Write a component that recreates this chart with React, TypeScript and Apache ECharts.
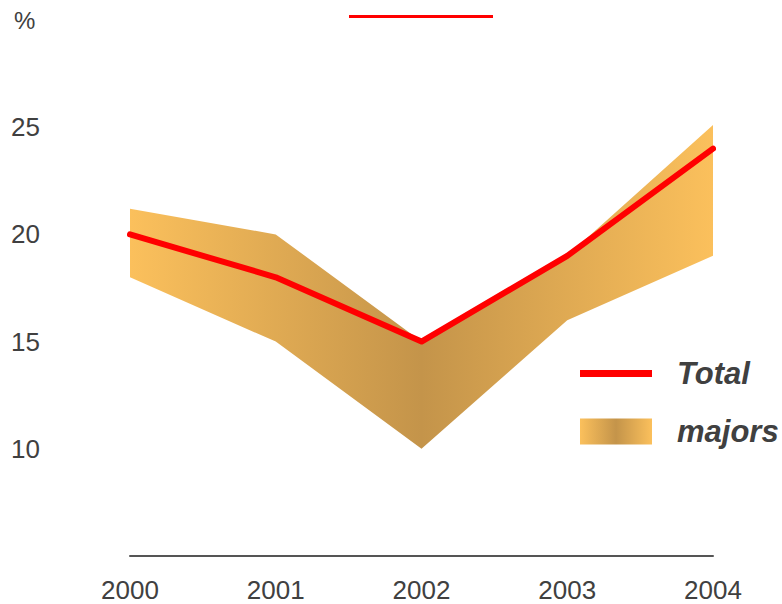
import React, { useEffect, useRef } from "react";
import * as echarts from "echarts";

const years = ["2000", "2001", "2002", "2003", "2004"];
const totalValues = [20, 18, 15, 19, 24];
const majorsUpper = [21.2, 20, 15, 19, 25.1];
const majorsLower = [18, 15, 10, 16, 19];
const yTicks = [5, 10, 15, 20, 25, 30];

const FONT = "'Liberation Sans', Arial, sans-serif";
const LIGHT = "#fbc05c";
const DARK = "#c4944a";

function bandGradient() {
  return new echarts.graphic.LinearGradient(0, 0, 1, 0, [
    { offset: 0, color: LIGHT },
    { offset: 0.5, color: DARK },
    { offset: 1, color: LIGHT },
  ]);
}

export default function App() {
  const ref = useRef<HTMLDivElement>(null);

  useEffect(() => {
    document.body.style.margin = "0";
    if (!ref.current) return;
    const chart = echarts.init(ref.current, null, { renderer: "svg" });
    const bandWidth = majorsUpper.map((u, i) => +(u - majorsLower[i]).toFixed(2));

    chart.setOption({
      animation: false,
      backgroundColor: "#ffffff",
      textStyle: { fontFamily: FONT },
      grid: { left: 130, right: 69, top: 20, bottom: 48, containLabel: false },
      xAxis: {
        type: "category",
        data: years,
        boundaryGap: false,
        axisLine: { show: true, lineStyle: { color: "#555555", width: 2 } },
        axisTick: { show: false },
        axisLabel: {
          color: "#404040",
          fontSize: 26,
          lineHeight: 20,
          fontFamily: FONT,
          margin: 24,
        },
        splitLine: { show: false },
      },
      yAxis: {
        type: "value",
        min: yTicks[0],
        max: yTicks[yTicks.length - 1],
        interval: 5,
        axisLine: { show: false },
        axisTick: { show: false },
        splitLine: { show: false },
        axisLabel: {
          color: "#404040",
          fontSize: 26,
          fontFamily: FONT,
          align: "left",
          margin: 119,
          showMinLabel: false,
          showMaxLabel: false,
        },
      },
      legend: [
        {
          orient: "vertical",
          left: 580,
          top: 358,
          padding: 0,
          itemWidth: 72,
          itemHeight: 7,
          selectedMode: false,
          data: [{ name: "Total", icon: "rect", itemStyle: { color: "#ff0000" } }],
          textStyle: {
            color: "#404040",
            fontSize: 31,
            fontWeight: "bold",
            fontStyle: "italic",
            fontFamily: FONT,
            padding: [0, 0, 0, 20],
          },
        },
        {
          orient: "vertical",
          left: 580,
          top: 416,
          padding: 0,
          itemWidth: 72,
          itemHeight: 26,
          selectedMode: false,
          data: [{ name: "majors", icon: "rect", itemStyle: { color: bandGradient() } }],
          textStyle: {
            color: "#404040",
            fontSize: 31,
            fontWeight: "bold",
            fontStyle: "italic",
            fontFamily: FONT,
            padding: [0, 0, 0, 20],
          },
        },
      ],
      graphic: [
        {
          type: "text",
          left: 14,
          top: 8,
          style: { text: "%", fill: "#404040", font: `24px ${FONT}` },
        },
        {
          type: "rect",
          shape: { x: 349, y: 15, width: 144, height: 3 },
          style: { fill: "#ff0000" },
        },
      ],
      series: [
        {
          name: "base",
          type: "line",
          stack: "band",
          data: majorsLower,
          symbol: "none",
          lineStyle: { width: 0, opacity: 0 },
          silent: true,
          z: 1,
        },
        {
          name: "majors",
          type: "line",
          stack: "band",
          data: bandWidth,
          symbol: "none",
          lineStyle: { width: 0, opacity: 0 },
          areaStyle: { color: bandGradient(), opacity: 1 },
          itemStyle: { color: DARK },
          silent: true,
          z: 1,
        },
        {
          name: "Total",
          type: "line",
          data: totalValues,
          symbol: "none",
          lineStyle: { color: "#ff0000", width: 6, cap: "round", join: "round" },
          itemStyle: { color: "#ff0000" },
          z: 3,
        },
      ],
    });

    return () => chart.dispose();
  }, []);

  return <div ref={ref} style={{ width: 782, height: 604 }} />;
}
